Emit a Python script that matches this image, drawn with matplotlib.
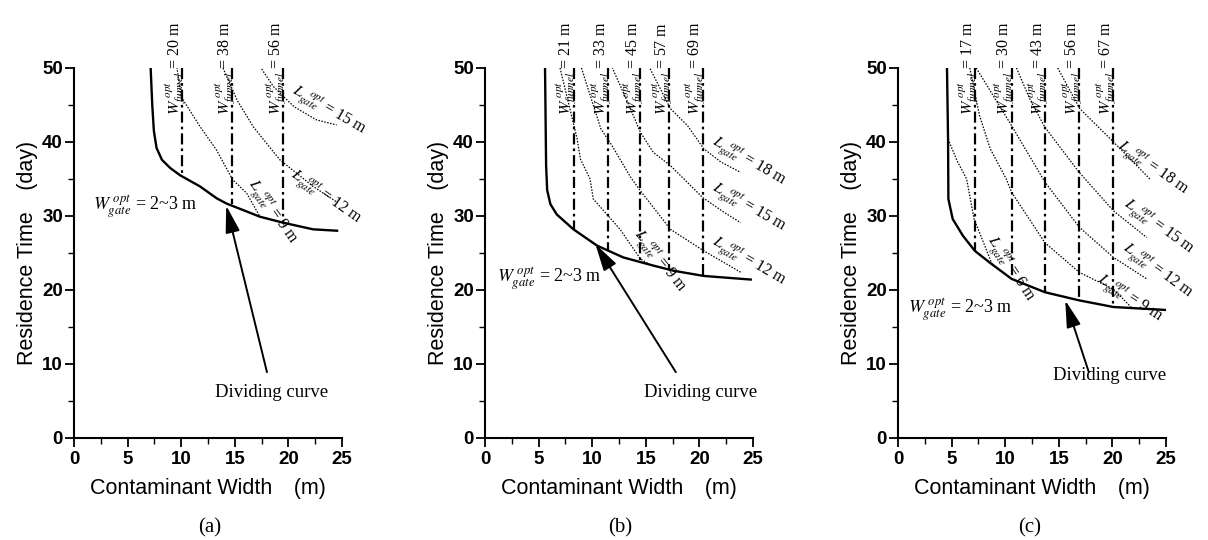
import matplotlib
matplotlib.use('Agg')
import matplotlib.pyplot as plt
import numpy as np

plt.rcParams['mathtext.fontset'] = 'stix'
plt.rcParams['font.family'] = ['Liberation Sans', 'Noto Sans CJK JP', 'DejaVu Sans']

# ---------------- data ----------------
# Panel (a)
div_a_x = [7.15, 7.3, 7.45, 7.7, 8.2, 8.96, 9.9, 11.75, 13.3, 14.2, 17.35, 19.5, 22.3, 24.65]
div_a_y = [50.0, 45.0, 41.5, 39.2, 37.6, 36.5, 35.5, 34.0, 32.4, 31.7, 29.9, 29.1, 28.2, 28.0]
funnel_a_x = [10.05, 14.77, 19.47]
funnel_a_ybot = [35.5, 31.6, 29.1]
funnel_a_lab = [20, 38, 56]
lg9_a_x = [9.6, 10.0, 11.75, 13.3, 14.8, 16.1, 17.35]
lg9_a_y = [50.1, 46.1, 42.1, 38.9, 34.9, 33.1, 29.9]
lg12_a_x = [13.9, 15.2, 16.7, 19.2, 22.3, 24.5]
lg12_a_y = [50.0, 45.7, 42.1, 37.6, 34.0, 31.9]
lg15_a_x = [17.35, 18.6, 20.5, 22.6, 24.5]
lg15_a_y = [50.2, 47.5, 44.8, 43.0, 42.3]

# Panel (b)
div_b_x = [5.6, 5.7, 5.8, 6.1, 6.7, 8.25, 10.45, 12.9, 15.7, 17.6, 20.4, 24.9]
div_b_y = [50.0, 36.8, 33.5, 31.6, 30.2, 28.2, 26.0, 24.4, 23.3, 22.6, 21.9, 21.4]
funnel_b_x = [8.26, 11.5, 14.5, 17.2, 20.3]
funnel_b_ybot = [28.2, 25.4, 23.8, 22.7, 21.9]
funnel_b_lab = [21, 33, 45, 57, 69]
lg9_b_x = [7.0, 8.6, 8.9, 9.8, 10.1, 12.6, 14.5, 15.3]
lg9_b_y = [50.0, 40.4, 37.7, 35.0, 32.3, 28.2, 24.2, 23.5]
lg12_b_x = [9.0, 10.8, 11.85, 13.6, 14.5, 17.3, 20.4, 23.85]
lg12_b_y = [50.0, 41.8, 39.5, 35.2, 33.4, 28.2, 25.3, 22.4]
lg15_b_x = [11.85, 13.3, 14.5, 15.7, 17.3, 20.3, 22.3, 23.85]
lg15_b_y = [50.1, 45.4, 41.3, 38.6, 36.8, 32.5, 30.5, 29.1]
lg18_b_x = [15.4, 17.3, 18.9, 20.4, 22.0, 23.85]
lg18_b_y = [49.9, 44.5, 42.2, 39.1, 37.3, 35.9]

# Panel (c)
div_c_x = [4.57, 4.67, 4.7, 5.1, 6.07, 7.16, 8.56, 10.6, 13.7, 16.9, 20.1, 25.0]
div_c_y = [50.0, 40.4, 32.3, 29.6, 27.3, 25.3, 23.7, 21.5, 19.7, 18.6, 17.7, 17.3]
funnel_c_x = [7.16, 10.6, 13.7, 16.9, 20.1]
funnel_c_ybot = [25.3, 21.5, 19.7, 18.6, 17.7]
funnel_c_lab = [17, 30, 43, 56, 67]
lg6_c_x = [4.67, 5.5, 6.4, 7.1, 8.8]
lg6_c_y = [40.4, 37.5, 35.0, 29.6, 23.4]
lg9_c_x = [6.7, 7.6, 8.6, 10.1, 10.6, 13.7, 16.9, 20.1, 21.8]
lg9_c_y = [50.0, 43.6, 39.1, 35.0, 33.2, 26.4, 22.4, 20.1, 17.6]
lg12_c_x = [7.3, 10.6, 13.7, 16.9, 20.1, 23.2]
lg12_c_y = [50.0, 42.2, 34.6, 28.5, 24.4, 21.5]
lg15_c_x = [11.05, 12.3, 13.7, 16.9, 20.1, 23.2]
lg15_c_y = [50.0, 45.8, 42.0, 35.9, 30.7, 27.1]
lg18_c_x = [14.9, 16.96, 20.1, 23.5]
lg18_c_y = [50.0, 44.5, 40.0, 35.0]

x_ticks = [0, 5, 10, 15, 20, 25]
y_ticks = [0, 10, 20, 30, 40, 50]
x_label = 'Contaminant Width\u3000(m)'
y_label = 'Residence Time\u3000(day)'
captions = ['(a)', '(b)', '(c)']

# ---------------- assemble panels ----------------
panels = [
    dict(div=(div_a_x, div_a_y), fx=funnel_a_x, fyb=funnel_a_ybot, flab=funnel_a_lab,
         curves=[(lg9_a_x, lg9_a_y), (lg12_a_x, lg12_a_y), (lg15_a_x, lg15_a_y)],
         llabels=[('9', (18.4, 30.6), -55), ('12', (23.4, 32.6), -35), ('15', (23.7, 44.3), -30)],
         wgate=(1.8, 31.1), arrow=((18.0, 8.9), (14.2, 31.4)), divtext=(18.4, 6.2)),
    dict(div=(div_b_x, div_b_y), fx=funnel_b_x, fyb=funnel_b_ybot, flab=funnel_b_lab,
         curves=[(lg9_b_x, lg9_b_y), (lg12_b_x, lg12_b_y), (lg15_b_x, lg15_b_y), (lg18_b_x, lg18_b_y)],
         llabels=[('9', (16.2, 23.9), -52), ('12', (24.6, 23.8), -30), ('15', (24.6, 31.2), -30),
                  ('18', (24.6, 37.3), -30)],
         wgate=(1.1, 21.5), arrow=((17.8, 8.9), (10.3, 26.2)), divtext=(20.1, 6.2)),
    dict(div=(div_c_x, div_c_y), fx=funnel_c_x, fyb=funnel_c_ybot, flab=funnel_c_lab,
         curves=[(lg6_c_x, lg6_c_y), (lg9_c_x, lg9_c_y), (lg12_c_x, lg12_c_y), (lg15_c_x, lg15_c_y),
                 (lg18_c_x, lg18_c_y)],
         llabels=[('6', (10.4, 22.8), -57), ('9', (21.6, 18.8), -33), ('12', (24.2, 22.6), -36),
                  ('15', (24.3, 28.5), -36), ('18', (23.7, 36.4), -35)],
         wgate=(0.9, 17.2), arrow=((17.8, 8.9), (15.6, 18.6)), divtext=(19.7, 8.4)),
]

W, H = 1208, 540
fig = plt.figure(figsize=(W / 100, H / 100), dpi=100)
left_px = [74, 485, 898]
axw_px = 268
top_px, bot_px = 68, 438
cap_x_px = [210, 620, 1030]

serif = ['Liberation Serif', 'DejaVu Serif']

for i, p in enumerate(panels):
    ax = fig.add_axes([left_px[i] / W, 1 - bot_px / H, axw_px / W, (bot_px - top_px) / H])
    ax.set_xlim(0, 25)
    ax.set_ylim(0, 50)
    for s in ['top', 'right']:
        ax.spines[s].set_visible(False)
    for s in ['left', 'bottom']:
        ax.spines[s].set_linewidth(1.5)
    ax.set_xticks(x_ticks)
    ax.set_yticks(y_ticks)
    ax.set_xticks(np.arange(2.5, 25, 5), minor=True)
    ax.set_yticks(np.arange(5, 50, 10), minor=True)
    ax.tick_params(which='major', direction='out', length=6.5, width=1.3, labelsize=13.5)
    ax.tick_params(axis='y', which='major', pad=1.5)
    ax.tick_params(axis='x', which='major', pad=3)
    ax.tick_params(which='minor', direction='out', length=4, width=1.0)
    for lab in ax.get_xticklabels() + ax.get_yticklabels():
        lab.set_fontweight('bold')
    ax.set_xlabel(x_label, fontsize=15.5, labelpad=7)
    ax.set_ylabel(y_label, fontsize=15.5, labelpad=3)

    # dividing curve
    ax.plot(p['div'][0], p['div'][1], color='black', lw=1.7, solid_capstyle='butt',
            solid_joinstyle='round')
    # L_gate contour curves
    for cx, cy in p['curves']:
        ax.plot(cx, cy, color='black', lw=0.9, linestyle=(0, (1.2, 1.2)))
    # funnel verticals
    for fx, fyb, fl in zip(p['fx'], p['fyb'], p['flab']):
        ax.plot([fx, fx], [50, fyb], color='black', lw=1.6, linestyle=(0, (5, 1.8, 1.2, 1.8)))
        ax.text(fx - 0.15, 43.6, r'$W_{funnel}^{\ opt}$ = %d m' % fl, rotation=90,
                rotation_mode='anchor', ha='left', va='baseline', fontsize=11.5,
                family=serif, clip_on=False)
    # L_gate labels
    for val, (lx, ly), rot in p['llabels']:
        ax.text(lx, ly, r'$L_{gate}^{\ \ opt}$ = %s m' % val, rotation=rot,
                rotation_mode='anchor', ha='center', va='center', fontsize=11.5,
                family=serif, clip_on=False)
    # W_gate label
    ax.text(p['wgate'][0], p['wgate'][1], r'$W_{gate}^{\ opt}$ = 2~3 m', ha='left', va='center',
            fontsize=13, family=serif)
    # arrow + dividing curve text
    ax.annotate('', xy=p['arrow'][1], xytext=p['arrow'][0],
                arrowprops=dict(arrowstyle='-|>,head_length=1.5,head_width=0.4', lw=1.4,
                                color='black', shrinkA=0, shrinkB=0, mutation_scale=11))
    ax.text(p['divtext'][0], p['divtext'][1], 'Dividing curve', ha='center', va='center',
            fontsize=13.5, family=serif)

    fig.text(cap_x_px[i] / W, 1 - 528 / H, captions[i], ha='center', va='center',
             fontsize=15, family=serif)

fig.savefig('out.png', dpi=100)
